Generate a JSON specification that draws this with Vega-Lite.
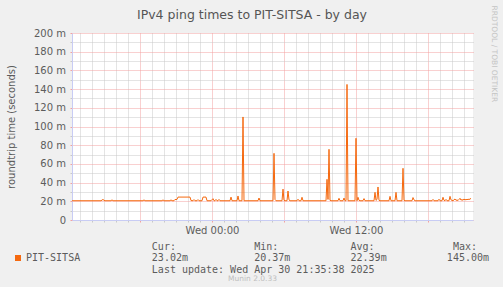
{
  "$schema": "https://vega.github.io/schema/vega-lite/v6.json",
  "width": 401,
  "height": 187,
  "autosize": {"type": "none"},
  "padding": {"left": 72, "top": 33, "right": 30, "bottom": 67},
  "background": "#F0F0F0",
  "config": {"view": {"fill": "#FFFFFF", "stroke": null}, "font": "DejaVu Sans"},
  "data": {"values": [
    {"t": "2025-04-29T12:20Z", "v": 20.6},
    {"t": "2025-04-29T14:45Z", "v": 20.6},
    {"t": "2025-04-29T14:55Z", "v": 22.0},
    {"t": "2025-04-29T15:00Z", "v": 21.0},
    {"t": "2025-04-29T15:05Z", "v": 20.6},
    {"t": "2025-04-29T15:35Z", "v": 20.6},
    {"t": "2025-04-29T15:40Z", "v": 21.6},
    {"t": "2025-04-29T15:45Z", "v": 20.6},
    {"t": "2025-04-29T18:15Z", "v": 20.6},
    {"t": "2025-04-29T18:20Z", "v": 21.6},
    {"t": "2025-04-29T18:25Z", "v": 20.6},
    {"t": "2025-04-29T19:50Z", "v": 20.6},
    {"t": "2025-04-29T19:55Z", "v": 21.6},
    {"t": "2025-04-29T20:00Z", "v": 20.6},
    {"t": "2025-04-29T20:30Z", "v": 20.6},
    {"t": "2025-04-29T20:35Z", "v": 21.6},
    {"t": "2025-04-29T20:40Z", "v": 20.6},
    {"t": "2025-04-29T20:50Z", "v": 20.6},
    {"t": "2025-04-29T20:55Z", "v": 22.0},
    {"t": "2025-04-29T21:00Z", "v": 21.8},
    {"t": "2025-04-29T21:05Z", "v": 22.0},
    {"t": "2025-04-29T21:10Z", "v": 24.5},
    {"t": "2025-04-29T22:10Z", "v": 24.5},
    {"t": "2025-04-29T22:15Z", "v": 20.8},
    {"t": "2025-04-29T22:25Z", "v": 20.6},
    {"t": "2025-04-29T22:30Z", "v": 21.8},
    {"t": "2025-04-29T22:35Z", "v": 20.6},
    {"t": "2025-04-29T22:45Z", "v": 20.6},
    {"t": "2025-04-29T22:50Z", "v": 21.8},
    {"t": "2025-04-29T22:55Z", "v": 20.6},
    {"t": "2025-04-29T23:10Z", "v": 20.6},
    {"t": "2025-04-29T23:15Z", "v": 24.5},
    {"t": "2025-04-29T23:30Z", "v": 24.5},
    {"t": "2025-04-29T23:35Z", "v": 20.6},
    {"t": "2025-04-29T23:55Z", "v": 20.6},
    {"t": "2025-04-30T00:05Z", "v": 22.8},
    {"t": "2025-04-30T00:10Z", "v": 20.6},
    {"t": "2025-04-30T00:15Z", "v": 20.6},
    {"t": "2025-04-30T00:20Z", "v": 22.0},
    {"t": "2025-04-30T00:25Z", "v": 20.6},
    {"t": "2025-04-30T00:30Z", "v": 20.6},
    {"t": "2025-04-30T00:35Z", "v": 22.0},
    {"t": "2025-04-30T00:40Z", "v": 20.6},
    {"t": "2025-04-30T01:30Z", "v": 20.6},
    {"t": "2025-04-30T01:35Z", "v": 24.5},
    {"t": "2025-04-30T01:40Z", "v": 20.6},
    {"t": "2025-04-30T02:05Z", "v": 20.6},
    {"t": "2025-04-30T02:10Z", "v": 25.7},
    {"t": "2025-04-30T02:15Z", "v": 20.6},
    {"t": "2025-04-30T02:30Z", "v": 20.6},
    {"t": "2025-04-30T02:35Z", "v": 110.2},
    {"t": "2025-04-30T02:40Z", "v": 20.6},
    {"t": "2025-04-30T03:50Z", "v": 20.6},
    {"t": "2025-04-30T03:55Z", "v": 23.5},
    {"t": "2025-04-30T04:00Z", "v": 20.6},
    {"t": "2025-04-30T05:05Z", "v": 20.6},
    {"t": "2025-04-30T05:10Z", "v": 71.3},
    {"t": "2025-04-30T05:15Z", "v": 22.0},
    {"t": "2025-04-30T05:20Z", "v": 20.6},
    {"t": "2025-04-30T05:50Z", "v": 20.6},
    {"t": "2025-04-30T05:55Z", "v": 33.0},
    {"t": "2025-04-30T06:00Z", "v": 21.0},
    {"t": "2025-04-30T06:05Z", "v": 20.6},
    {"t": "2025-04-30T06:15Z", "v": 20.6},
    {"t": "2025-04-30T06:20Z", "v": 31.0},
    {"t": "2025-04-30T06:25Z", "v": 21.5},
    {"t": "2025-04-30T06:30Z", "v": 20.6},
    {"t": "2025-04-30T07:05Z", "v": 20.6},
    {"t": "2025-04-30T07:10Z", "v": 22.2},
    {"t": "2025-04-30T07:15Z", "v": 20.6},
    {"t": "2025-04-30T07:25Z", "v": 20.6},
    {"t": "2025-04-30T07:30Z", "v": 24.3},
    {"t": "2025-04-30T07:35Z", "v": 20.6},
    {"t": "2025-04-30T09:30Z", "v": 20.6},
    {"t": "2025-04-30T09:35Z", "v": 43.5},
    {"t": "2025-04-30T09:40Z", "v": 22.0},
    {"t": "2025-04-30T09:45Z", "v": 75.6},
    {"t": "2025-04-30T09:50Z", "v": 21.0},
    {"t": "2025-04-30T09:55Z", "v": 20.6},
    {"t": "2025-04-30T10:30Z", "v": 20.6},
    {"t": "2025-04-30T10:35Z", "v": 23.2},
    {"t": "2025-04-30T10:40Z", "v": 20.6},
    {"t": "2025-04-30T10:55Z", "v": 20.6},
    {"t": "2025-04-30T11:00Z", "v": 23.5},
    {"t": "2025-04-30T11:05Z", "v": 20.6},
    {"t": "2025-04-30T11:10Z", "v": 20.6},
    {"t": "2025-04-30T11:15Z", "v": 145.0},
    {"t": "2025-04-30T11:20Z", "v": 20.6},
    {"t": "2025-04-30T11:55Z", "v": 20.6},
    {"t": "2025-04-30T12:00Z", "v": 87.4},
    {"t": "2025-04-30T12:05Z", "v": 20.6},
    {"t": "2025-04-30T12:10Z", "v": 24.3},
    {"t": "2025-04-30T12:15Z", "v": 21.0},
    {"t": "2025-04-30T12:20Z", "v": 20.6},
    {"t": "2025-04-30T12:35Z", "v": 20.6},
    {"t": "2025-04-30T12:40Z", "v": 22.9},
    {"t": "2025-04-30T12:45Z", "v": 20.6},
    {"t": "2025-04-30T13:30Z", "v": 20.6},
    {"t": "2025-04-30T13:35Z", "v": 29.6},
    {"t": "2025-04-30T13:40Z", "v": 21.0},
    {"t": "2025-04-30T13:45Z", "v": 22.0},
    {"t": "2025-04-30T13:50Z", "v": 35.3},
    {"t": "2025-04-30T13:55Z", "v": 21.0},
    {"t": "2025-04-30T14:00Z", "v": 20.6},
    {"t": "2025-04-30T14:45Z", "v": 20.6},
    {"t": "2025-04-30T14:50Z", "v": 25.3},
    {"t": "2025-04-30T14:55Z", "v": 20.6},
    {"t": "2025-04-30T15:15Z", "v": 20.6},
    {"t": "2025-04-30T15:20Z", "v": 29.6},
    {"t": "2025-04-30T15:25Z", "v": 20.6},
    {"t": "2025-04-30T15:50Z", "v": 20.6},
    {"t": "2025-04-30T15:55Z", "v": 55.3},
    {"t": "2025-04-30T16:00Z", "v": 21.0},
    {"t": "2025-04-30T16:05Z", "v": 20.6},
    {"t": "2025-04-30T16:40Z", "v": 20.6},
    {"t": "2025-04-30T16:45Z", "v": 24.0},
    {"t": "2025-04-30T16:50Z", "v": 21.5},
    {"t": "2025-04-30T16:55Z", "v": 20.6},
    {"t": "2025-04-30T18:20Z", "v": 20.6},
    {"t": "2025-04-30T18:25Z", "v": 22.0},
    {"t": "2025-04-30T18:30Z", "v": 20.6},
    {"t": "2025-04-30T18:50Z", "v": 20.6},
    {"t": "2025-04-30T18:55Z", "v": 22.2},
    {"t": "2025-04-30T19:00Z", "v": 20.6},
    {"t": "2025-04-30T19:10Z", "v": 20.6},
    {"t": "2025-04-30T19:15Z", "v": 24.3},
    {"t": "2025-04-30T19:20Z", "v": 21.0},
    {"t": "2025-04-30T19:25Z", "v": 20.6},
    {"t": "2025-04-30T19:30Z", "v": 22.0},
    {"t": "2025-04-30T19:35Z", "v": 20.6},
    {"t": "2025-04-30T19:45Z", "v": 20.6},
    {"t": "2025-04-30T19:50Z", "v": 25.3},
    {"t": "2025-04-30T19:55Z", "v": 21.5},
    {"t": "2025-04-30T20:00Z", "v": 21.0},
    {"t": "2025-04-30T20:05Z", "v": 20.6},
    {"t": "2025-04-30T20:15Z", "v": 22.5},
    {"t": "2025-04-30T20:20Z", "v": 21.0},
    {"t": "2025-04-30T20:25Z", "v": 21.5},
    {"t": "2025-04-30T20:30Z", "v": 20.8},
    {"t": "2025-04-30T20:35Z", "v": 22.0},
    {"t": "2025-04-30T20:40Z", "v": 23.2},
    {"t": "2025-04-30T20:45Z", "v": 21.2},
    {"t": "2025-04-30T20:50Z", "v": 22.0},
    {"t": "2025-04-30T20:55Z", "v": 21.0},
    {"t": "2025-04-30T21:00Z", "v": 22.5},
    {"t": "2025-04-30T21:05Z", "v": 21.3},
    {"t": "2025-04-30T21:10Z", "v": 22.2},
    {"t": "2025-04-30T21:15Z", "v": 21.5},
    {"t": "2025-04-30T21:20Z", "v": 22.4},
    {"t": "2025-04-30T21:25Z", "v": 21.8},
    {"t": "2025-04-30T21:30Z", "v": 22.5},
    {"t": "2025-04-30T21:35Z", "v": 23.02}
  ]},
  "layer": [
    {
      "mark": {"type": "line", "strokeWidth": 1, "interpolate": "linear"},
      "encoding": {
        "x": {
          "field": "t", "type": "temporal",
          "scale": {"type": "utc", "domain": [1745929200000, 1746049500000]},
          "axis": {
            "orient": "bottom",
            "values": [1745931600000, 1745935200000, 1745938800000, 1745942400000, 1745946000000, 1745949600000, 1745953200000, 1745956800000, 1745960400000, 1745964000000, 1745967600000, 1745971200000, 1745974800000, 1745978400000, 1745982000000, 1745985600000, 1745989200000, 1745992800000, 1745996400000, 1746000000000, 1746003600000, 1746007200000, 1746010800000, 1746014400000, 1746018000000, 1746021600000, 1746025200000, 1746028800000, 1746032400000, 1746036000000, 1746039600000, 1746043200000, 1746046800000],
            "grid": true,
            "gridDash": [1, 1],
            "gridColor": {"condition": {"test": "utchours(datum.value) % 6 === 0", "value": "#F2A0A0"}, "value": "#C8C8C8"},
            "ticks": true,
            "tickSize": 2,
            "tickColor": {"condition": {"test": "utchours(datum.value) % 6 === 0", "value": "#F2A0A0"}, "value": "#C8C8C8"},
            "domain": true,
            "domainColor": "#C8CCF4",
            "labelExpr": "utchours(datum.value) % 12 === 0 ? utcFormat(datum.value, '%a %H:%M') : ''",
            "labelFont": "DejaVu Sans",
            "labelFontSize": 10,
            "labelColor": "#5C5C5C",
            "labelPadding": 3,
            "labelFlush": false,
            "labelOverlap": false,
            "title": ["Cur:\u00a0\u00a0\u00a0\u00a0\u00a0\u00a0\u00a0\u00a0\u00a0\u00a0\u00a0\u00a0\u00a0Min:\u00a0\u00a0\u00a0\u00a0\u00a0\u00a0\u00a0\u00a0\u00a0\u00a0\u00a0\u00a0Avg:\u00a0\u00a0\u00a0\u00a0\u00a0\u00a0\u00a0\u00a0\u00a0\u00a0\u00a0\u00a0\u00a0Max:",
                      "23.02m\u00a0\u00a0\u00a0\u00a0\u00a0\u00a0\u00a0\u00a0\u00a0\u00a0\u00a020.37m\u00a0\u00a0\u00a0\u00a0\u00a0\u00a0\u00a0\u00a0\u00a0\u00a022.39m\u00a0\u00a0\u00a0\u00a0\u00a0\u00a0\u00a0\u00a0\u00a0\u00a0145.00m",
                      "\u00a0\u00a0\u00a0\u00a0\u00a0\u00a0\u00a0\u00a0\u00a0\u00a0\u00a0\u00a0\u00a0\u00a0\u00a0\u00a0\u00a0\u00a0\u00a0Last update: Wed Apr 30 21:35:38 2025"],
            "titleFont": "DejaVu Sans Mono",
            "titleFontSize": 10,
            "titleFontWeight": "normal",
            "titleColor": "#5C5C5C",
            "titleAlign": "left",
            "titleBaseline": "alphabetic",
            "titleX": 79.35,
            "titleY": 29,
            "titleLineHeight": 11.75
          }
        },
        "y": {
          "field": "v", "type": "quantitative",
          "scale": {"domain": [0, 200], "nice": false, "zero": true},
          "axis": {
            "orient": "left",
            "values": [0, 10, 20, 30, 40, 50, 60, 70, 80, 90, 100, 110, 120, 130, 140, 150, 160, 170, 180, 190, 200],
            "grid": true,
            "gridDash": [1, 1],
            "gridColor": {"condition": {"test": "datum.value % 20 === 0", "value": "#F2A0A0"}, "value": "#C8C8C8"},
            "ticks": true,
            "tickSize": 2,
            "tickColor": {"condition": {"test": "datum.value % 20 === 0", "value": "#F2A0A0"}, "value": "#C8C8C8"},
            "domain": true,
            "domainColor": "#C8CCF4",
            "labelExpr": "datum.value % 20 === 0 ? (datum.value === 0 ? '0' : datum.value + ' m') : ''",
            "labelFont": "DejaVu Sans",
            "labelFontSize": 10,
            "labelColor": "#5C5C5C",
            "labelPadding": 4.5,
            "labelOverlap": false,
            "title": "roundtrip time (seconds)",
            "titleFont": "DejaVu Sans",
            "titleFontSize": 10,
            "titleFontWeight": "normal",
            "titleColor": "#5C5C5C",
            "titleAngle": 270,
            "titleAlign": "center",
            "titleBaseline": "middle",
            "titleX": -61,
            "titleY": 93.5
          }
        },
        "color": {
          "datum": "PIT-SITSA", "type": "nominal",
          "scale": {"range": ["#F5690F"]},
          "legend": {
            "orient": "none",
            "legendX": -59,
            "legendY": 220,
            "title": null,
            "symbolType": "square",
            "symbolSize": 36,
            "symbolFillColor": "#F5690F",
            "symbolStrokeWidth": 0,
            "labelFont": "DejaVu Sans Mono",
            "labelFontSize": 10,
            "labelColor": "#5C5C5C",
            "labelOffset": 3
          }
        }
      }
    },
    {
      "mark": {"type": "line", "opacity": 0},
      "encoding": {
        "x": {
          "field": "t", "type": "temporal",
          "scale": {"type": "utc"},
          "axis": {
            "orient": "bottom", "labels": false, "ticks": false, "domain": false, "grid": false,
            "title": "Munin 2.0.33",
            "titleFont": "DejaVu Sans", "titleFontSize": 7.5, "titleFontWeight": "normal",
            "titleColor": "#BEBEBE", "titleAlign": "center", "titleBaseline": "alphabetic",
            "titleX": 180, "titleY": 60
          }
        },
        "y": {
          "field": "v", "type": "quantitative",
          "axis": {
            "orient": "right", "labels": false, "ticks": false, "domain": false, "grid": false,
            "title": "RRDTOOL / TOBI OETIKER",
            "titleFont": "DejaVu Sans", "titleFontSize": 7.5, "titleFontWeight": "normal",
            "titleColor": "#C4C4C4", "titleAngle": 90, "titleAlign": "left", "titleBaseline": "middle",
            "titleX": 20, "titleY": -28
          }
        }
      }
    },
    {
      "mark": {"type": "line", "opacity": 0},
      "encoding": {
        "x": {
          "field": "t", "type": "temporal",
          "scale": {"type": "utc"},
          "axis": {
            "orient": "top", "labels": false, "ticks": false, "domain": false, "grid": false,
            "title": "IPv4 ping times to PIT-SITSA - by day",
            "titleFont": "DejaVu Sans", "titleFontSize": 12.5, "titleFontWeight": "normal",
            "titleColor": "#555555", "titleAlign": "center", "titleBaseline": "alphabetic",
            "titleX": 179.5, "titleY": -14.7
          }
        },
        "y": {"field": "v", "type": "quantitative", "axis": null}
      }
    }
  ],
  "resolve": {"axis": {"x": "independent", "y": "independent"}}
}
